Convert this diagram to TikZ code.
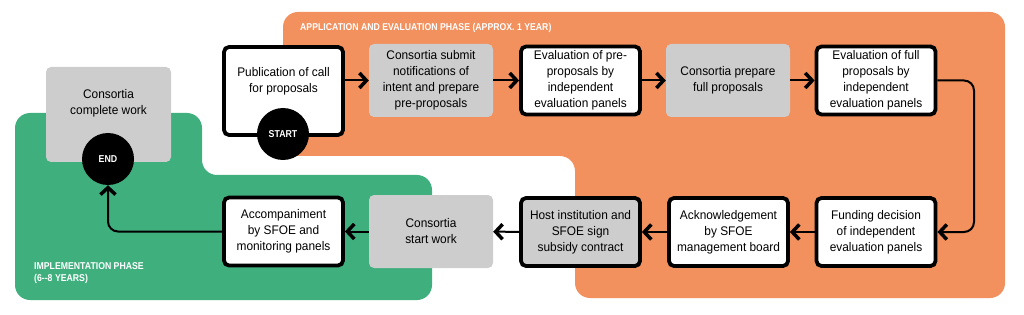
\documentclass[tikz,border=0pt]{standalone}
\usepackage{fontspec}
\setmainfont{Liberation Sans}[FakeStretch=0.95]
\newfontfamily\phasefont{Liberation Sans}[FakeStretch=0.88]
\usepackage{xcolor}
\usepackage{tikz}
\usetikzlibrary{arrows.meta}

\definecolor{phaseorange}{HTML}{F2905E}
\definecolor{phasegreen}{HTML}{40AF7E}
\definecolor{stepgray}{HTML}{CDCDCD}

\tikzset{
  box/.style={rectangle,rounded corners=5pt,align=center,inner sep=2pt,
    font=\fontsize{12.5}{16}\selectfont},
  whitebox/.style={box,draw=black,line width=3.8pt,fill=white,
    minimum width=119pt,minimum height=68pt},
  darkbox/.style={whitebox,fill=stepgray},
  graybox/.style={box,fill=stepgray,minimum width=124pt,minimum height=73pt},
  boxtext/.style={align=center,inner sep=0pt,font=\fontsize{12.5}{16}\selectfont},
  tag/.style={circle,fill=black,minimum size=52pt,inner sep=0pt,text=white,
    font=\phasefont\bfseries\fontsize{10}{12}\selectfont},
  phase/.style={text=white,inner sep=0pt,align=left,
    font=\phasefont\bfseries\fontsize{9.9}{12}\selectfont},
  flow/.style={line width=2pt,-{Straight Barb[length=7pt,width=15pt,line width=3.5pt]}},
}

\begin{document}
\begin{tikzpicture}[x=1pt,y=-1pt]
\useasboundingbox (0,0) rectangle (1024,315);

% phases
\fill[phaseorange,rounded corners=15pt] (283,12)--(1005,12)--(1005,298)--(575,298)--(575,156)--(283,156)--cycle;
\fill[phasegreen,rounded corners=15pt] (15,113)--(202,113)--(202,175)--(432,175)--(432,300)--(15,300)--cycle;
\node[phase,anchor=west] (apptitle) at (300,27.5) {APPLICATION AND EVALUATION PHASE (APPROX. 1 YEAR)};
\node[phase,anchor=north west] (imptitle) at (34,262) {IMPLEMENTATION PHASE\\(6--8 YEARS)};

% first row
\node[whitebox,minimum height=88pt] (pub) at (283.5,91) {};
\node[boxtext] (pubtext) at (283.5,81) {Publication of call\\for proposals};
\node[graybox] (notify) at (431,80.5) {Consortia submit\\notifications of\\intent and prepare\\pre-proposals};
\node[whitebox] (evpre) at (580.5,80.5) {Evaluation of pre-\\proposals by\\independent\\evaluation panels};
\node[graybox] (prepfull) at (728,80.5) {Consortia prepare\\full proposals};
\node[whitebox] (evfull) at (876,80.5) {Evaluation of full\\proposals by\\independent\\evaluation panels};

% second row
\node[whitebox] (fund) at (876,232) {Funding decision\\of independent\\evaluation panels};
\node[whitebox] (ack) at (728.5,232) {Acknowledgement\\by SFOE\\management board};
\node[darkbox] (sign) at (580.5,232) {Host institution and\\SFOE sign\\subsidy contract};
\node[graybox] (work) at (431,231.5) {Consortia\\start work};
\node[whitebox] (acc) at (283.5,231.5) {Accompaniment\\by SFOE and\\monitoring panels};
\node[graybox,minimum width=125pt,minimum height=95pt] (done) at (108.5,114.5) {};
\node[boxtext] (donetext) at (108.5,103) {Consortia\\complete work};

% flow
\coordinate (turn) at (974,156);
\draw[flow] (pub.east |- notify.west) -- (notify.west);
\draw[flow] (notify) -- (evpre);
\draw[flow] (evpre) -- (prepfull);
\draw[flow] (prepfull) -- (evfull);
\draw[flow,rounded corners=10pt] (evfull.east) -| (turn) |- (fund.east);
\draw[flow] (fund) -- (ack);
\draw[flow] (ack) -- (sign);
\draw[flow] (sign) -- (work);
\draw[flow] (work) -- (acc);

\node[tag] (start) at (283,134) {START};
\node[tag] (end) at (108,159) {END};
\draw[flow,rounded corners=10pt] (acc.west) -| (end.south);
\end{tikzpicture}
\end{document}
